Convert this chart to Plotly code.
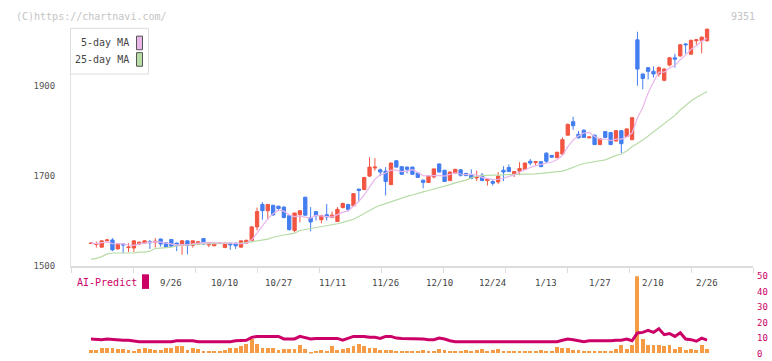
import plotly.graph_objects as go
import pandas as pd

# ---------------- data ----------------
opens = [1549,1547,1541,1555,1557,1537,1548,1540,1539,1548,1550,1553,1552,1559,1551,1558,1550,1545,1555,1545,
         1548,1560,1546,1544,1549,1540,1550,1550,1541,1550,1555,1586,1636,1622,1634,1632,1630,1611,1578,1613,
         1652,1607,1620,1602,1613,1607,1598,1629,1636,1633,1670,1669,1699,1717,1713,1710,1680,1733,1720,1719,
         1719,1706,1690,1685,1697,1726,1712,1689,1706,1713,1705,1701,1695,1701,1689,1687,1686,1712,1718,1703,
         1710,1714,1732,1729,1731,1750,1745,1740,1748,1790,1820,1792,1801,1784,1790,1769,1798,1796,1777,1800,
         1787,1780,2002,1926,1940,1932,1926,1912,1946,1962,1966,1993,1970,2000,2000,2000]
highs = [1551,1553,1556,1559,1561,1549,1549,1550,1556,1553,1556,1557,1561,1560,1552,1559,1551,1557,1556,1556,
         1554,1561,1552,1552,1552,1551,1551,1551,1555,1558,1588,1629,1641,1636,1635,1633,1632,1612,1617,1622,
         1653,1630,1621,1613,1637,1620,1630,1640,1637,1661,1671,1697,1741,1739,1716,1719,1729,1735,1721,1720,
         1720,1707,1691,1700,1716,1727,1713,1709,1715,1714,1706,1714,1711,1706,1693,1690,1708,1721,1725,1710,
         1730,1729,1737,1732,1732,1752,1746,1753,1785,1816,1831,1799,1803,1787,1791,1783,1799,1797,1801,1801,
         1805,1830,2020,1927,1941,1943,1943,1939,1964,1971,1992,1994,2002,2003,2009,2027]
lows = [1548,1540,1540,1554,1532,1536,1528,1530,1530,1546,1549,1537,1540,1542,1540,1542,1532,1524,1525,1540,
        1547,1547,1541,1543,1548,1539,1535,1537,1540,1549,1554,1578,1602,1602,1610,1622,1605,1578,1574,1596,
        1611,1576,1600,1594,1600,1605,1597,1627,1620,1631,1643,1668,1697,1711,1699,1656,1679,1718,1702,1705,
        1702,1695,1672,1684,1694,1707,1686,1688,1705,1698,1699,1692,1688,1688,1678,1678,1681,1688,1708,1697,
        1701,1713,1723,1722,1719,1728,1740,1739,1747,1789,1802,1783,1784,1783,1768,1768,1784,1768,1776,1750,
        1786,1779,1900,1892,1914,1918,1920,1910,1943,1940,1965,1971,1969,1991,1972,1998]
closes = [1550,1548,1555,1557,1535,1548,1546,1541,1555,1552,1555,1551,1554,1548,1541,1543,1545,1555,1545,1555,
          1553,1548,1551,1551,1550,1550,1546,1544,1555,1556,1586,1620,1622,1636,1613,1627,1607,1580,1617,1622,
          1612,1597,1611,1611,1608,1612,1625,1638,1625,1660,1667,1696,1719,1719,1708,1687,1728,1719,1703,1714,
          1703,1696,1685,1699,1715,1708,1687,1708,1714,1701,1700,1694,1697,1689,1692,1683,1699,1708,1709,1709,
          1716,1728,1728,1731,1720,1732,1741,1752,1780,1814,1811,1784,1785,1786,1769,1782,1785,1769,1800,1771,
          1804,1829,1937,1916,1932,1926,1940,1937,1962,1959,1991,1991,2001,2002,2008,2026]
ma25 = [1514,1516,1520,1526,1528,1528,1528,1528,1528,1530,1530,1532,1538,1539,1540,1541,1544,1545,1546,1548,
        1549,1549,1549,1549,1549,1550,1550,1550,1550,1551,1553,1555,1557,1559,1563,1566,1568,1570,1572,1578,
        1580,1582,1584,1586,1589,1591,1593,1596,1599,1603,1609,1616,1622,1629,1634,1638,1643,1647,1651,1654,
        1657,1661,1664,1667,1670,1673,1677,1680,1684,1687,1690,1695,1699,1700,1701,1701,1701,1702,1703,1703,
        1703,1703,1703,1704,1705,1706,1707,1708,1710,1714,1719,1723,1727,1729,1730,1732,1735,1740,1745,1748,
        1755,1764,1771,1779,1788,1797,1806,1814,1823,1834,1846,1857,1866,1874,1881,1887]
volume = [2.0,2.3,3.5,3.5,3.5,2.8,2.8,2.3,1.5,2.8,3.5,2.8,2.3,2.3,3.5,3.5,5.0,5.0,2.3,3.5,
          2.8,1.5,1.5,1.5,1.5,2.3,3.5,3.5,5.0,6.2,9.0,6.2,3.5,3.5,3.5,2.3,2.8,2.8,2.8,5.6,
          2.8,0.8,1.5,2.3,1.5,5.0,2.3,2.8,3.5,5.0,6.2,5.0,3.5,3.5,2.3,2.3,2.3,1.5,1.5,1.5,
          1.5,1.5,2.3,1.5,1.5,2.8,2.3,1.5,1.5,1.5,2.3,1.5,2.3,2.8,1.5,2.3,2.8,1.5,1.5,1.5,
          1.5,1.5,1.5,1.5,2.3,1.5,1.5,4.2,3.5,3.5,2.3,2.3,1.5,1.5,1.5,1.7,1.7,1.7,2.6,5.2,
          2.6,5.2,50,9.1,5.5,5.5,5.5,5.0,5.5,3.0,4.4,2.4,3.0,2.4,5.5,3.0]
ai_predict = [9.4,9.0,9.0,9.4,9.0,9.0,8.6,8.6,8.0,7.7,7.7,7.7,7.7,7.7,7.7,7.7,8.3,8.3,7.9,8.3,
              7.7,7.7,7.7,7.7,7.7,7.7,7.7,8.3,8.3,8.6,10.5,11.1,11.1,11.1,11.1,11.1,9.5,9.4,9.5,11.1,
              10.0,9.4,9.8,9.8,9.8,9.8,9.8,8.6,9.8,11.1,11.1,11.1,10.5,10.5,9.8,11.1,11.1,10.0,9.8,9.8,
              9.4,9.4,9.4,9.0,9.0,10.0,9.4,8.3,7.7,7.7,7.7,7.7,7.7,7.7,7.7,7.7,7.7,7.7,7.7,7.7,
              7.7,7.7,7.7,7.7,7.7,7.7,7.7,7.7,8.6,9.4,9.0,8.3,7.7,8.3,8.3,8.3,8.0,8.3,8.6,8.6,
              9.4,8.3,13.3,13.7,15.0,13.7,16.0,12.2,13.0,11.1,13.5,9.4,9.0,8.0,10.0,8.7]
date_labels = ["9/26","10/10","10/27","11/11","11/26","12/10","12/24","1/13","1/27","2/10","2/26"]
date_label_idx = [15,25,35,45,55,65,75,85,95,105,115]
price_ticks = [1500,1700,1900]
ai_ticks = [0,10,20,30,40,50]

# ---------------- styling / layout ----------------
W, H = 772, 361
UP, DOWN = "#f25542", "#437ef0"
PINK, GREEN = "#e9b6ea", "#b7dca6"
CRIMSON, ORANGE = "#cc0066", "#f59a45"
MONO = "DejaVu Sans Mono, monospace"

x = list(range(len(closes)))
ma5 = pd.Series(closes).rolling(5, min_periods=1).mean().tolist()

def px(v, total):
    return v / total

x_left, x_right = 71, 753          # plot area pixel edges
main_top, main_bot = 24, 268        # main panel pixel edges
sub_top, sub_bot = 279, 358.5       # sub panel pixel edges
step = 5.357                        # px per trading day
first_x = 91                        # pixel of first candle
xr = [(x_left - first_x) / step, (x_right - first_x) / step]
price_lo = 1500
price_hi = price_lo + (main_bot - main_top) / 0.4625

fig = go.Figure()

fig.add_trace(go.Scatter(x=x, y=ma25, mode="lines", line=dict(color=GREEN, width=1.2),
                         hoverinfo="skip", showlegend=False))
fig.add_trace(go.Scatter(x=x, y=ma5, mode="lines", line=dict(color=PINK, width=1.2),
                         hoverinfo="skip", showlegend=False))
fig.add_trace(go.Candlestick(x=x, open=opens, high=highs, low=lows, close=closes,
                             increasing=dict(line=dict(color=UP, width=1), fillcolor=UP),
                             decreasing=dict(line=dict(color=DOWN, width=1), fillcolor=DOWN),
                             whiskerwidth=0, showlegend=False))

fig.add_trace(go.Bar(x=x, y=volume, marker=dict(color=ORANGE, line=dict(width=0)), width=0.72,
                     xaxis="x2", yaxis="y2", showlegend=False))
fig.add_trace(go.Scatter(x=x, y=ai_predict, mode="lines", line=dict(color=CRIMSON, width=3),
                         xaxis="x2", yaxis="y2", showlegend=False))

# uniform tick marks along bottom axis of main panel (11 segments)
tick_pos = [xr[0] + k * (xr[1] - xr[0]) / 11 for k in range(12)]

fig.update_layout(
    width=W, height=H, margin=dict(l=0, r=0, t=0, b=0),
    paper_bgcolor="white", plot_bgcolor="white",
    boxgap=0.12,
    font=dict(family=MONO, size=9, color="#444"),
    xaxis=dict(domain=[px(x_left, W), px(x_right, W)], range=xr, rangeslider=dict(visible=False),
               showgrid=False, zeroline=False, showline=True, linecolor="#dcdcdc", linewidth=2,
               tickvals=tick_pos, ticktext=[""] * len(tick_pos), ticks="outside", ticklen=5,
               tickcolor="#dcdcdc", tickwidth=1, anchor="y"),
    yaxis=dict(domain=[1 - main_bot / H, 1 - main_top / H], range=[price_lo, price_hi],
               showgrid=False, zeroline=False, showline=True, linecolor="#e2e2e2", linewidth=1,
               tickvals=price_ticks,
               ticktext=[str(v) for v in price_ticks], ticks="", ticklabelstandoff=13,
               tickfont=dict(family=MONO, size=9, color="#555"), anchor="x"),
    xaxis2=dict(domain=[px(x_left, W), px(x_right, W)], range=xr, matches="x", showgrid=False,
                zeroline=False, showline=False, showticklabels=False, ticks="", anchor="y2"),
    yaxis2=dict(domain=[1 - sub_bot / H, 1 - sub_top / H], range=[0, 50], side="right",
                showgrid=False, zeroline=False, showline=False, tickvals=ai_ticks,
                ticktext=[str(v) for v in ai_ticks], ticks="", ticklabelstandoff=3,
                tickfont=dict(family=MONO, size=9, color=CRIMSON), anchor="x2"),
    bargap=0, barmode="overlay", hovermode=False,
)

# date labels under the main panel
for lbl, idx in zip(date_labels, date_label_idx):
    fig.add_annotation(x=idx, y=1 - 285.5 / H, xref="x", yref="paper", text=lbl, showarrow=False,
                       font=dict(family=MONO, size=9, color="#444"), xanchor="center", yanchor="middle")

# watermark and code
fig.add_annotation(x=px(14, W), y=1 - 12 / H, xref="paper", yref="paper", text="(C)https://chartnavi.com/",
                   showarrow=False, xanchor="left", yanchor="middle",
                   font=dict(family=MONO, size=10, color="#c4c4c4"))
fig.add_annotation(x=px(757, W), y=1 - 12 / H, xref="paper", yref="paper", text="9351",
                   showarrow=False, xanchor="right", yanchor="middle",
                   font=dict(family=MONO, size=10, color="#c4c4c4"))

# legend box
fig.add_shape(type="rect", xref="paper", yref="paper", x0=px(70.5, W), x1=px(148.5, W),
              y0=1 - 71 / H, y1=1 - 24 / H, line=dict(color="#dddddd", width=1), fillcolor="white")
for txt, yc, col in [("5-day MA", 39, PINK), ("25-day MA", 56, GREEN)]:
    fig.add_annotation(x=px(131, W), y=1 - yc / H, xref="paper", yref="paper", text=txt,
                       showarrow=False, xanchor="right", yanchor="middle",
                       font=dict(family=MONO, size=10, color="#444"))
    fig.add_shape(type="rect", xref="paper", yref="paper", x0=px(136.5, W), x1=px(142.5, W),
                  y0=1 - (yc + 7) / H, y1=1 - (yc - 7) / H, line=dict(color="#555", width=1),
                  fillcolor=col)

# AI-Predict label
fig.add_annotation(x=px(75, W), y=1 - 285 / H, xref="paper", yref="paper", text="AI-Predict",
                   showarrow=False, xanchor="left", yanchor="middle",
                   font=dict(family=MONO, size=10, color=CRIMSON))
fig.add_shape(type="rect", xref="paper", yref="paper", x0=px(142, W), x1=px(149, W),
              y0=1 - 292 / H, y1=1 - 277 / H, line=dict(width=0), fillcolor=CRIMSON)

fig.write_html("out.html", config={"displayModeBar": False},
               post_script="document.body.style.margin='0';")
